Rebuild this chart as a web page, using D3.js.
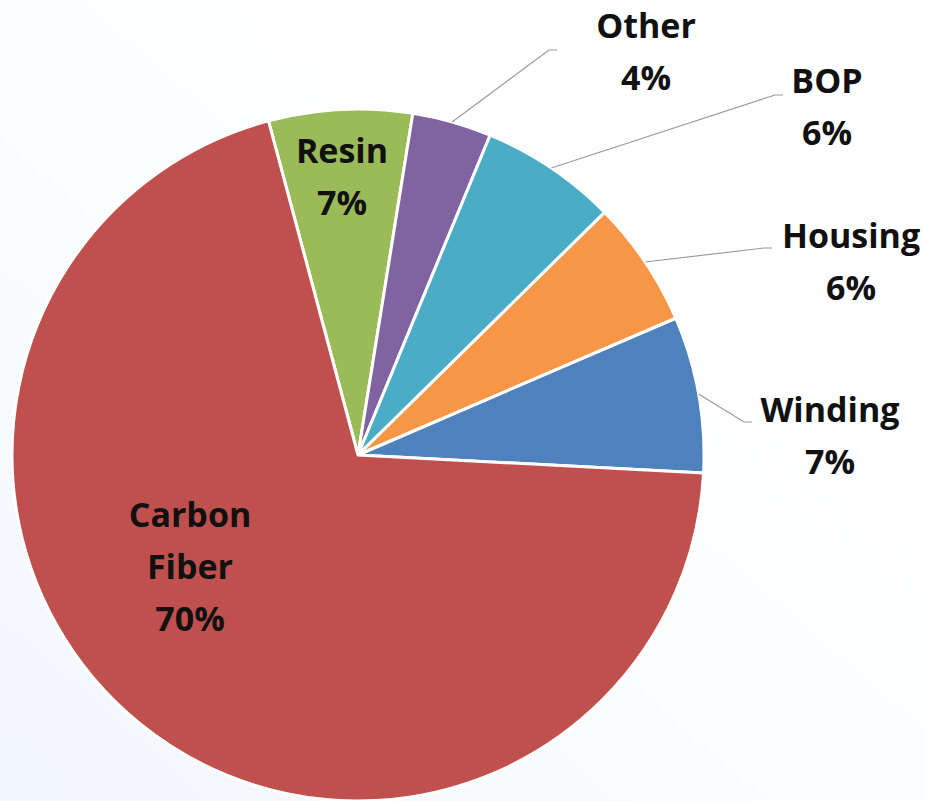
<!DOCTYPE html>
<html>
<head>
<meta charset="utf-8">
<script src="https://cdn.jsdelivr.net/npm/d3@7"></script>
<style>
  html, body { margin: 0; padding: 0; background: #fff; }
  svg { display: block; }
</style>
</head>
<body>
<svg id="chart" width="925" height="801"></svg>
<script>
// ---- data ----
const categories = ["Resin", "Other", "BOP", "Housing", "Winding", "Carbon Fiber"];
const values = [6.7, 3.7, 6.4, 5.9, 7.3, 70.0];
const colors = ["#9BBB59", "#8064A2", "#4BACC6", "#F79646", "#4F81BD", "#C0504D"];

// ---- layout (styles / positions, not data) ----
const W = 925, H = 801;
const cx = 358, cy = 455, R = 346;
const startDeg = -15;
const fontSize = 34, lineH = 52;
// label placement: inside labels use text center + first baseline relative to pie centre;
// outside labels also have a leader end point
const labelLayout = {
  "Resin":        { inside: true,  x: -16, y: -292 },
  "Carbon Fiber": { inside: true,  x: -168, y: 72, split: true },
  "Other":        { inside: false, x: 288, y: -417, lx: 199, ly: -405 },
  "BOP":          { inside: false, x: 469, y: -362, lx: 425, ly: -360 },
  "Housing":      { inside: false, x: 493, y: -207, lx: 414, ly: -207 },
  "Winding":      { inside: false, x: 472, y: -33,  lx: 394, ly: -33 }
};

const svg = d3.select("#chart");

// background
const defs = svg.append("defs");
const grad = defs.append("linearGradient").attr("id", "bg")
  .attr("x1", "0").attr("y1", "1").attr("x2", "1").attr("y2", "0");
grad.append("stop").attr("offset", "0").attr("stop-color", "#f2f7fc");
grad.append("stop").attr("offset", "0.55").attr("stop-color", "#fdfeff");
grad.append("stop").attr("offset", "1").attr("stop-color", "#ffffff");
svg.append("rect").attr("width", W).attr("height", H).attr("fill", "url(#bg)");

const data = categories.map((c, i) => ({ name: c, value: values[i], color: colors[i] }));
const total = d3.sum(values);

const pie = d3.pie()
  .sort(null)
  .value(d => d.value)
  .startAngle(startDeg * Math.PI / 180)
  .endAngle(startDeg * Math.PI / 180 + 2 * Math.PI);

const arcs = pie(data);
const arc = d3.arc().innerRadius(0).outerRadius(R);
const edgeArc = d3.arc().innerRadius(R).outerRadius(R);

const g = svg.append("g").attr("transform", `translate(${cx},${cy})`);

g.selectAll("path.slice")
  .data(arcs)
  .join("path")
  .attr("class", "slice")
  .attr("d", arc)
  .attr("fill", d => d.data.color)
  .attr("stroke", "#ffffff")
  .attr("stroke-width", 3)
  .attr("stroke-linejoin", "round");

// leader lines
arcs.forEach(a => {
  const L = labelLayout[a.data.name];
  if (L.inside) return;
  const mid = (a.startAngle + a.endAngle) / 2;
  const p0 = [R * Math.sin(mid), -R * Math.cos(mid)];
  const elbow = [L.lx - 8, L.ly];
  g.append("polyline")
    .attr("points", [p0, elbow, [L.lx, L.ly]].map(p => p.join(",")).join(" "))
    .attr("fill", "none")
    .attr("stroke", "#9a9a9a")
    .attr("stroke-width", 1.2);
});

// labels
const fmt = v => Math.round(v / total * 100) + "%";
arcs.forEach(a => {
  const L = labelLayout[a.data.name];
  const lines = L.split ? a.data.name.split(" ") : [a.data.name];
  lines.push(fmt(a.data.value));
  const t = g.append("text")
    .attr("text-anchor", "middle")
    .attr("font-family", "'Open Sans', sans-serif")
    .attr("font-weight", "bold")
    .attr("font-size", fontSize)
    .attr("fill", "#111");
  lines.forEach((s, i) => {
    t.append("tspan").attr("x", L.x).attr("y", L.y + i * lineH).text(s);
  });
});
</script>
</body>
</html>
